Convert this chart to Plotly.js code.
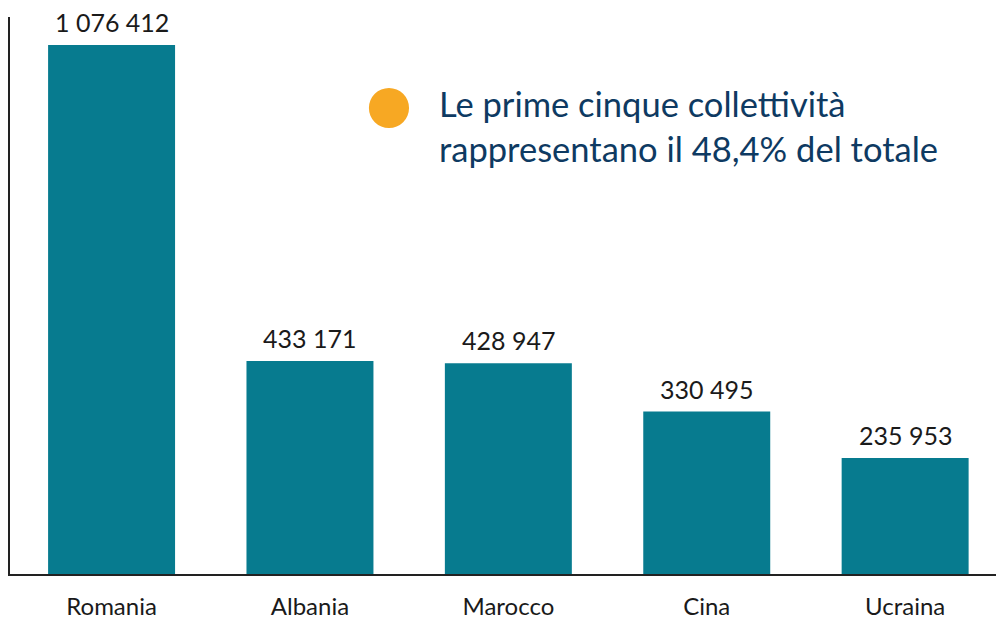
<!DOCTYPE html>
<html><head><meta charset="utf-8">
<script src="https://cdn.plot.ly/plotly-3.0.1.min.js"></script>
<style>html,body{margin:0;padding:0;background:#fff}#chart{width:996px;height:619px}</style>
</head><body><div id="chart"></div>
<script>
const categories = ["Romania", "Albania", "Marocco", "Cina", "Ucraina"];
const values = [1076412, 433171, 428947, 330495, 235953];
const noteText = "Le prime cinque collettività<br>rappresentano il 48,4% del totale";

function fmt(v){ return String(v).replace(/\B(?=(\d{3})+(?!\d))/g, " "); }

const trace = {
  type: "bar", x: categories, y: values, width: 0.64,
  marker: {color: "#077b8f", line: {width: 0}},
  hoverinfo: "none"
};
const annotations = categories.map((c, i) => ({
  x: c, y: values[i], xref: "x", yref: "y", text: fmt(values[i]),
  showarrow: false, yanchor: "bottom", yshift: 6,
  font: {family: "Lato", size: 25, color: "#1a1a1a"}
}));
annotations.push({
  xref: "paper", yref: "paper", x: 0.433, y: 0.805, xanchor: "left", yanchor: "middle",
  align: "left", showarrow: false, text: noteText,
  font: {family: "Lato", size: 34.5, color: "#0e3a62"}
});
const layout = {
  width: 996, height: 619,
  margin: {l: 10, r: 0, t: 17, b: 45},
  paper_bgcolor: "#fff", plot_bgcolor: "#fff",
  showlegend: false,
  xaxis: {range: [-0.512, 4.458], showline: true, linecolor: "#222", linewidth: 2,
    ticks: "", ticklabelstandoff: 10, showgrid: false, zeroline: false,
    tickfont: {family: "Lato", size: 24, color: "#1a1a1a"}},
  yaxis: {range: [0, 1133400], showline: true, linecolor: "#222", linewidth: 2,
    showticklabels: false, ticks: "", showgrid: false, zeroline: false},
  shapes: [{type: "circle", xref: "paper", yref: "paper",
    x0: 0.364, x1: 0.4047, y0: 0.8007, y1: 0.8726,
    fillcolor: "#f7a823", line: {width: 0}}],
  annotations: annotations
};
Plotly.newPlot("chart", [trace], layout, {displayModeBar: false, staticPlot: true});
</script></body></html>
